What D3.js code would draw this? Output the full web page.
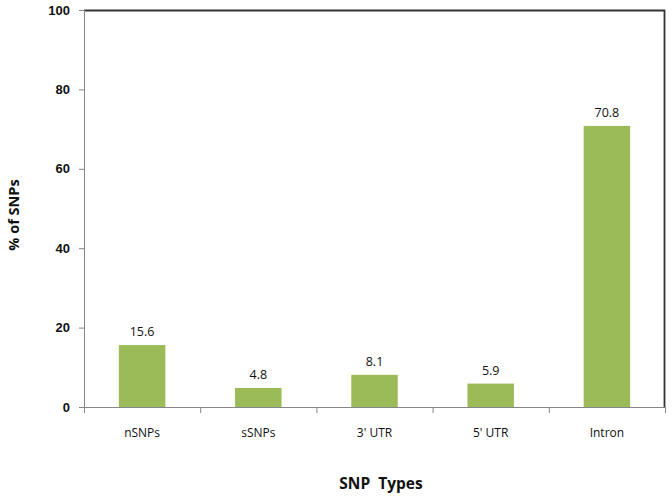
<!DOCTYPE html>
<html>
<head>
<meta charset="utf-8">
<script src="https://cdn.jsdelivr.net/npm/d3@7"></script>
<style>
  body { margin: 0; background: #fff; }
  svg { display: block; font-family: "Open Sans", sans-serif; }
  .axis path, .axis line { stroke: #868686; }
  .axis text { fill: #111; }
</style>
</head>
<body>
<svg></svg>
<script>
var categories = ["nSNPs", "sSNPs", "3' UTR", "5' UTR", "Intron"];
var percents = [15.6, 4.8, 8.1, 5.9, 70.8];
var yTicks = [0, 20, 40, 60, 80, 100];

var svg = d3.select("svg")
    .attr("width", 672)
    .attr("height", 497);

var margin = {top: 10, right: 7, bottom: 90, left: 84},
    width = 672 - margin.left - margin.right,
    height = 497 - margin.top - margin.bottom;

var g = svg.append("g")
    .attr("transform", "translate(" + margin.left + "," + margin.top + ")");

var x = d3.scaleBand()
    .domain(categories)
    .range([0, width])
    .paddingInner(0.6)
    .paddingOuter(0.3);

var y = d3.scaleLinear()
    .domain([0, 100])
    .range([height, 0]);

// frame, top and right edges
g.append("path")
    .attr("d", "M0,0.5H" + (width - 0.5) + "V" + height)
    .attr("fill", "none")
    .attr("stroke", "#333")
    .attr("stroke-width", 1.8);

// bars
g.selectAll(".bar")
    .data(percents)
    .enter().append("rect")
    .attr("class", "bar")
    .attr("x", function(d, i) { return x(categories[i]); })
    .attr("y", function(d) { return y(d); })
    .attr("width", x.bandwidth())
    .attr("height", function(d) { return height - y(d); })
    .attr("fill", "#9bbb59");

// value labels
g.selectAll(".val")
    .data(percents)
    .enter().append("text")
    .attr("class", "val")
    .attr("x", function(d, i) { return x(categories[i]) + x.bandwidth() / 2; })
    .attr("y", function(d) { return y(d) - 9; })
    .attr("text-anchor", "middle")
    .style("font-size", "12.5px")
    .attr("fill", "#111")
    .text(function(d) { return d.toFixed(1); });

// y axis
var yAxis = d3.axisLeft(y)
    .tickValues(yTicks)
    .tickSize(5)
    .tickPadding(9);

g.append("g")
    .attr("class", "axis axis--y")
    .call(yAxis)
    .call(function(s) { s.select(".domain").attr("d", "M0.5," + height + "V0"); })
    .selectAll("text")
    .style("font-size", "13px")
    .style("font-weight", "bold");

// x axis, ticks sit on the category boundaries
var xAxis = g.append("g")
    .attr("class", "axis axis--x")
    .attr("transform", "translate(0," + height + ")");

xAxis.append("path")
    .attr("class", "domain")
    .attr("d", "M0,0.5H" + width);

var bounds = d3.range(categories.length + 1).map(function(i) { return i * x.step(); });

xAxis.selectAll(".tick")
    .data(bounds)
    .enter().append("line")
    .attr("x1", function(d) { return d + 0.5; })
    .attr("x2", function(d) { return d + 0.5; })
    .attr("y1", 0)
    .attr("y2", 6);

xAxis.selectAll(".cat")
    .data(categories)
    .enter().append("text")
    .attr("class", "cat")
    .attr("x", function(d) { return x(d) + x.bandwidth() / 2; })
    .attr("y", 30)
    .attr("text-anchor", "middle")
    .style("font-size", "12px")
    .text(function(d) { return d; });

// axis titles
svg.append("text")
    .attr("x", 381)
    .attr("y", 489)
    .attr("text-anchor", "middle")
    .style("font-size", "15.5px")
    .style("font-weight", "bold")
    .style("white-space", "pre")
    .attr("fill", "#111")
    .text("SNP  Types");

svg.append("text")
    .attr("transform", "translate(19,215) rotate(-90)")
    .attr("text-anchor", "middle")
    .style("font-size", "14.5px")
    .style("font-weight", "bold")
    .attr("fill", "#111")
    .text("% of SNPs");
</script>
</body>
</html>
